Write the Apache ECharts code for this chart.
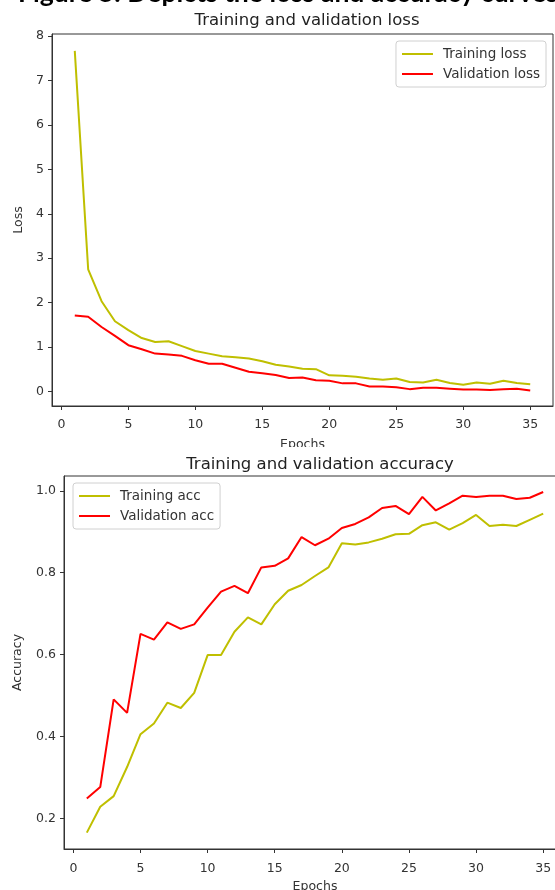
<!DOCTYPE html>
<html>
<head>
<meta charset="utf-8">
<script src="https://cdn.jsdelivr.net/npm/echarts@6/dist/echarts.min.js"></script>
<style>
html,body{margin:0;padding:0;background:#fff;}
#c{width:555px;height:890px;}
</style>
</head>
<body>
<div id="c"></div>
<script>
const epochs = [1,2,3,4,5,6,7,8,9,10,11,12,13,14,15,16,17,18,19,20,21,22,23,24,25,26,27,28,29,30,31,32,33,34,35];
const trainLoss = [7.67,2.75,2.03,1.58,1.38,1.20,1.11,1.13,1.02,0.91,0.85,0.79,0.77,0.74,0.68,0.60,0.56,0.51,0.50,0.36,0.35,0.33,0.29,0.26,0.29,0.21,0.20,0.26,0.19,0.15,0.20,0.17,0.24,0.19,0.16];
const valLoss = [1.71,1.68,1.45,1.25,1.04,0.95,0.85,0.83,0.80,0.70,0.62,0.62,0.53,0.44,0.41,0.37,0.30,0.31,0.25,0.24,0.18,0.18,0.11,0.11,0.09,0.05,0.08,0.08,0.06,0.04,0.04,0.03,0.05,0.06,0.02];
const trainAcc = [0.166,0.229,0.255,0.326,0.406,0.432,0.483,0.470,0.507,0.599,0.599,0.656,0.691,0.674,0.723,0.756,0.770,0.792,0.813,0.872,0.869,0.874,0.883,0.894,0.895,0.916,0.923,0.905,0.921,0.941,0.914,0.917,0.914,0.929,0.944];
const valAcc = [0.249,0.277,0.491,0.458,0.651,0.637,0.679,0.663,0.674,0.715,0.754,0.768,0.750,0.813,0.817,0.835,0.887,0.867,0.883,0.909,0.919,0.935,0.958,0.963,0.943,0.985,0.952,0.969,0.988,0.985,0.988,0.988,0.980,0.983,0.997];
const epochTicks = [0,5,10,15,20,25,30,35];
const lossTicks = [0,1,2,3,4,5,6,7,8];
const accTicks = [0.2,0.4,0.6,0.8,1.0];
const figureCaption = 'Figure 5: Depicts the loss and accuracy curves';
const lossTitle = 'Training and validation loss';
const accTitle = 'Training and validation accuracy';

const YELLOW = '#bfbf00', RED = '#ff0000';
const FONT = 'DejaVu Sans';
const pair = ys => epochs.map((e,i)=>[e, ys[i]]);

function xAx(gi, gap, margin){
  return {
    type:'value', gridIndex:gi, min:-0.7, max:36.7,
    name:'Epochs', nameLocation:'middle', nameGap:gap,
    nameTextStyle:{fontFamily:FONT,fontSize:12.5,color:'#333'},
    axisLine:{show:true,onZero:false,lineStyle:{color:'#333',width:1}},
    axisTick:{show:true,length:4,customValues:epochTicks,lineStyle:{color:'#333'}},
    axisLabel:{show:true,margin:margin,customValues:epochTicks,fontFamily:FONT,fontSize:12.5,color:'#333'},
    splitLine:{show:false}
  };
}
function yAx(gi,min,max,ticks,name,gap,fmt){
  return {
    type:'value', gridIndex:gi, min:min, max:max,
    name:name, nameLocation:'middle', nameGap:gap,
    nameTextStyle:{fontFamily:FONT,fontSize:12.5,color:'#333'},
    axisLine:{show:true,onZero:false,lineStyle:{color:'#333',width:1}},
    axisTick:{show:true,length:4,customValues:ticks,lineStyle:{color:'#333'}},
    axisLabel:{show:true,margin:8,customValues:ticks,fontFamily:FONT,fontSize:12.5,color:'#333',formatter:fmt},
    splitLine:{show:false}
  };
}
function lineSeries(name,xi,yi,data,color){
  return {type:'line',name:name,xAxisIndex:xi,yAxisIndex:yi,data:data,symbol:'none',
    lineStyle:{color:color,width:2},itemStyle:{color:color},animation:false};
}
const legendBase = {
  orient:'vertical', backgroundColor:'#fff', borderColor:'#d0d0d0', borderWidth:1, borderRadius:3,
  padding:[5,6,5,6], icon:'rect', itemWidth:31, itemHeight:2, itemGap:4,
  textStyle:{fontFamily:FONT,fontSize:13.5,color:'#333',padding:[0,0,0,5],lineHeight:16}
};

const chart = echarts.init(document.getElementById('c'), null, {renderer:'canvas'});
chart.setOption({
  animation:false,
  backgroundColor:'#fff',
  title:[
    {text:lossTitle,left:302,top:7,textAlign:'center',textStyle:{fontFamily:FONT,fontSize:16.5,fontWeight:'normal',color:'#222'}},
    {text:accTitle,left:315,top:451,textAlign:'center',textStyle:{fontFamily:FONT,fontSize:16.5,fontWeight:'normal',color:'#222'}}
  ],
  grid:[
    {left:52,top:34,width:501,height:372,show:true,borderColor:'#333',borderWidth:1,backgroundColor:'transparent',containLabel:false,outerBoundsMode:'none'},
    {left:64,top:476,width:502,height:373,show:true,borderColor:'#333',borderWidth:1,backgroundColor:'transparent',containLabel:false,outerBoundsMode:'none'}
  ],
  xAxis:[xAx(0,32,12), xAx(1,31,13)],
  yAxis:[
    yAx(0,-0.33,8.05,lossTicks,'Loss',26,v=>String(v)),
    yAx(1,0.126,1.036,accTicks,'Accuracy',40,v=>v.toFixed(1))
  ],
  legend:[
    Object.assign({}, legendBase, {data:['Training loss','Validation loss'], right:9, top:41}),
    Object.assign({}, legendBase, {data:['Training acc','Validation acc'], left:73, top:483})
  ],
  series:[
    lineSeries('Training loss',0,0,pair(trainLoss),YELLOW),
    lineSeries('Validation loss',0,0,pair(valLoss),RED),
    lineSeries('Training acc',1,1,pair(trainAcc),YELLOW),
    lineSeries('Validation acc',1,1,pair(valAcc),RED)
  ],
  graphic:[
    {type:'rect',z:100,shape:{x:240,y:447,width:130,height:8},style:{fill:'#fff'}},
    {type:'text',z:100,left:18,top:-20,style:{text:figureCaption,fontFamily:'Lato',fontWeight:'bold',fontSize:26.5,fill:'#000'}}
  ]
});
</script>
</body>
</html>
